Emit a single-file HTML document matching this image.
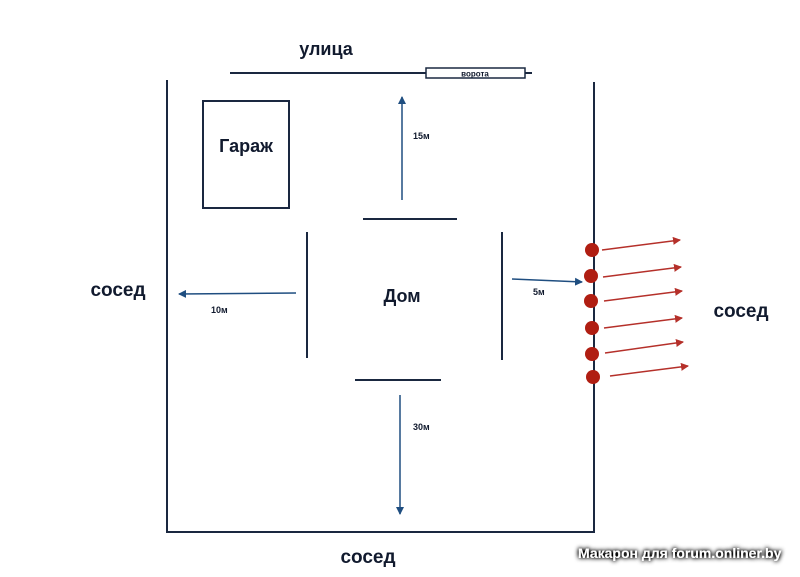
<!DOCTYPE html>
<html><head><meta charset="utf-8"><style>
html,body{margin:0;padding:0;background:#fff;width:800px;height:577px;overflow:hidden}
svg{display:block}
text{font-family:"Liberation Sans",sans-serif;font-weight:bold;fill:#111a2e}
</style></head><body>
<svg width="800" height="577" viewBox="0 0 800 577" xmlns="http://www.w3.org/2000/svg">
<defs>
<marker id="b" markerWidth="8" markerHeight="8" refX="7" refY="4" orient="auto" markerUnits="userSpaceOnUse"><path d="M0,0 L8,4 L0,8 z" fill="#1f4e80"/></marker>
<marker id="r" markerWidth="8" markerHeight="8" refX="7" refY="4" orient="auto" markerUnits="userSpaceOnUse"><path d="M0,0 L8,4 L0,8 z" fill="#b5302a"/></marker>
<filter id="sh" x="-20%" y="-50%" width="140%" height="200%"><feGaussianBlur in="SourceAlpha" stdDeviation="2.5"/><feComponentTransfer><feFuncA type="linear" slope="2"/></feComponentTransfer><feMerge><feMergeNode/><feMergeNode in="SourceGraphic"/></feMerge></filter>
</defs>
<g stroke="#1a2840" stroke-width="2" fill="none">
<line x1="167" y1="80" x2="167" y2="533"/>
<line x1="166" y1="532" x2="595" y2="532"/>
<line x1="594" y1="82" x2="594" y2="533"/>
<line x1="230" y1="73" x2="532" y2="73"/>
<rect x="203" y="101" width="86" height="107"/>
<line x1="363" y1="219" x2="457" y2="219"/>
<line x1="307" y1="232" x2="307" y2="358"/>
<line x1="502" y1="232" x2="502" y2="360"/>
<line x1="355" y1="380" x2="441" y2="380"/>
</g>
<rect x="426" y="68" width="99" height="10" fill="#fff" stroke="#1a2840" stroke-width="1.5"/>
<text x="475" y="76.5" font-size="8" text-anchor="middle">ворота</text>
<text x="326" y="55" font-size="18" text-anchor="middle">улица</text>
<text x="246" y="152" font-size="18" text-anchor="middle">Гараж</text>
<text x="402" y="302" font-size="18" text-anchor="middle">Дом</text>
<text x="118" y="296" font-size="19" text-anchor="middle">сосед</text>
<text x="741" y="317" font-size="19" text-anchor="middle">сосед</text>
<text x="368" y="563" font-size="19" text-anchor="middle">сосед</text>
<text x="413" y="139" font-size="9">15м</text>
<text x="211" y="313" font-size="9">10м</text>
<text x="413" y="430" font-size="9">30м</text>
<text x="533" y="295" font-size="9">5м</text>
<g stroke="#1f4e80" stroke-width="1.5">
<line x1="402" y1="200" x2="402" y2="97" marker-end="url(#b)"/>
<line x1="296" y1="293" x2="179" y2="294" marker-end="url(#b)"/>
<line x1="400" y1="395" x2="400" y2="514" marker-end="url(#b)"/>
<line x1="512" y1="279" x2="582" y2="282" marker-end="url(#b)"/>
</g>
<g fill="#b01e12">
<circle cx="592" cy="250" r="7"/><circle cx="591" cy="276" r="7"/><circle cx="591" cy="301" r="7"/>
<circle cx="592" cy="328" r="7"/><circle cx="592" cy="354" r="7"/><circle cx="593" cy="377" r="7"/>
</g>
<g stroke="#b5302a" stroke-width="1.5">
<line x1="602" y1="250" x2="680" y2="240" marker-end="url(#r)"/>
<line x1="603" y1="277" x2="681" y2="267" marker-end="url(#r)"/>
<line x1="604" y1="301" x2="682" y2="291" marker-end="url(#r)"/>
<line x1="604" y1="328" x2="682" y2="318" marker-end="url(#r)"/>
<line x1="605" y1="353" x2="683" y2="342" marker-end="url(#r)"/>
<line x1="610" y1="376" x2="688" y2="366" marker-end="url(#r)"/>
</g>
<text x="578" y="558" font-size="14" style="fill:#fff" filter="url(#sh)">Макарон для forum.onliner.by</text>
</svg>
</body></html>
